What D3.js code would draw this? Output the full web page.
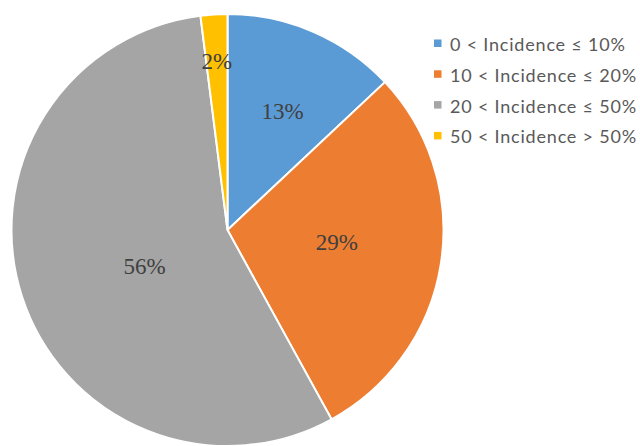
<!DOCTYPE html>
<html>
<head>
<meta charset="utf-8">
<script src="https://cdn.jsdelivr.net/npm/d3@7"></script>
<style>
  html, body { margin: 0; padding: 0; background: #fff; }
  svg { display: block; }
</style>
</head>
<body>
<svg id="chart" width="640" height="446"></svg>
<script>
const categories = ["0 < Incidence \u2264 10%", "10 < Incidence \u2264 20%", "20 < Incidence \u2264 50%", "50 < Incidence > 50%"];
const values = [13, 29, 56, 2];
const valueLabels = ["13%", "29%", "56%", "2%"];
const colors = ["#5B9BD5", "#ED7D31", "#A5A5A5", "#FFC000"];
// label placement (layout only): fraction of radius and angle nudge in degrees
const labelRadiusFrac = [0.605, 0.51, 0.42, 0.78];
const labelAngleNudge = [1.5, -2.5, -6, 0];

const svg = d3.select("#chart");
const cx = 227.5, cy = 230, r = 216;

const pie = d3.pie().sort(null).value(d => d)(values);
const arc = d3.arc().innerRadius(0).outerRadius(r);

const g = svg.append("g").attr("transform", `translate(${cx},${cy})`);
g.selectAll("path.slice").data(pie).join("path")
  .attr("class", "slice")
  .attr("d", arc)
  .attr("fill", (d, i) => colors[i])
  .attr("stroke", "#fff")
  .attr("stroke-width", 2);

g.selectAll("text.lbl").data(pie).join("text")
  .attr("class", "lbl")
  .attr("transform", (d, i) => {
    const mid = (d.startAngle + d.endAngle) / 2 + labelAngleNudge[i] * Math.PI / 180;
    const c = d3.pointRadial(mid, r * labelRadiusFrac[i]);
    return `translate(${c[0]},${c[1]})`;
  })
  .attr("text-anchor", "middle")
  .attr("dominant-baseline", "central")
  .attr("font-family", "'Liberation Serif', 'Times New Roman', serif")
  .attr("font-size", 23)
  .attr("fill", "#404040")
  .text((d, i) => valueLabels[i]);

const legend = svg.append("g").attr("transform", "translate(434,43)");
const rows = legend.selectAll("g").data(categories).join("g")
  .attr("transform", (d, i) => `translate(0,${i * 30.8})`);
rows.append("rect")
  .attr("x", 0).attr("y", -3.5).attr("width", 7.5).attr("height", 7.5)
  .attr("fill", (d, i) => colors[i]);
rows.append("text")
  .attr("x", 16).attr("y", 1)
  .attr("dominant-baseline", "central")
  .attr("font-family", "Lato, 'Open Sans', sans-serif")
  .attr("font-size", 18)
  .attr("letter-spacing", 0.8)
  .attr("fill", "#595959")
  .text(d => d);
</script>
</body>
</html>
